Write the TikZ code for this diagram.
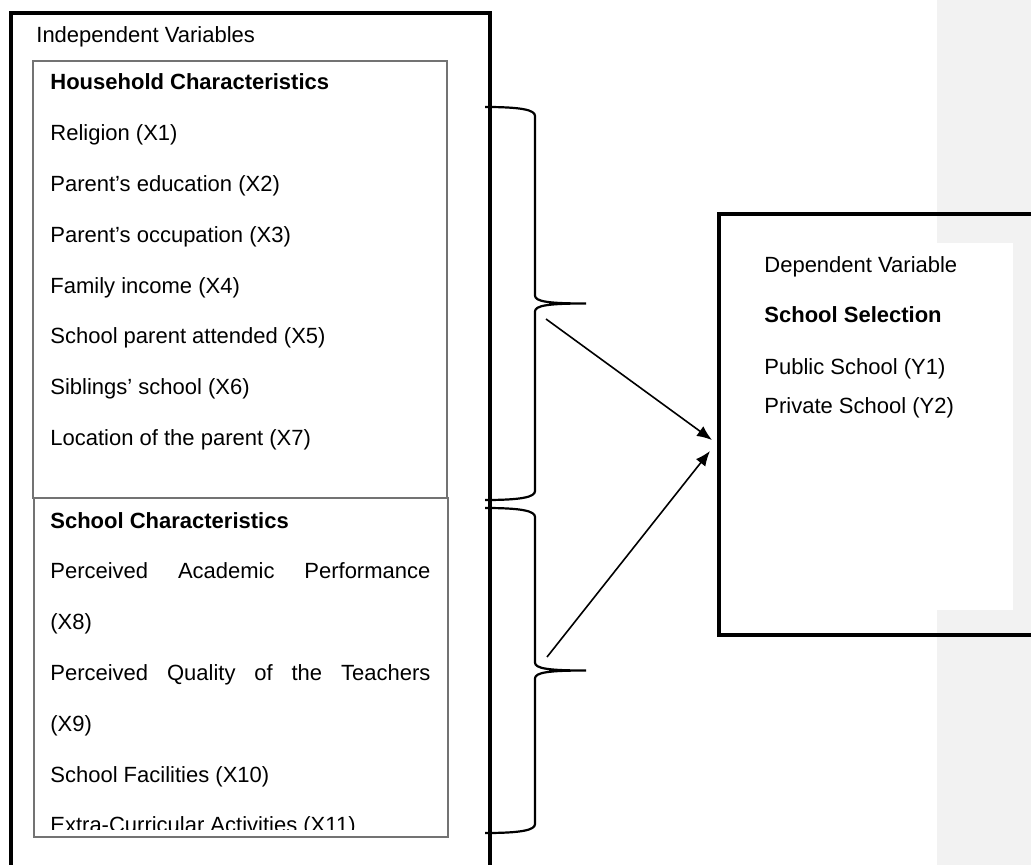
\documentclass[tikz,border=0pt]{standalone}
\usepackage{fontspec}
\setmainfont{Liberation Sans}
\usetikzlibrary{arrows.meta,positioning}
\definecolor{margingray}{HTML}{F2F2F2}
\tikzstyle{outer} = [draw,line width=2pt]
\tikzstyle{inner} = [draw=black!55,line width=0.6pt,fill=white]
\tikzstyle{depbox} = [draw,line width=2.2pt,rectangle,inner sep=0,anchor=north west]
\tikzstyle{lbl} = [anchor=base west,inner sep=0pt,font=\fontsize{11}{13}\selectfont]
\tikzstyle{head} = [lbl,font=\fontsize{11}{13}\selectfont\bfseries]
\tikzstyle{brace} = [line width=1.1pt]
\tikzstyle{link} = [-{Latex[length=7.5pt,width=6pt]},line width=0.8pt]
\def \ls {50.8}
\newcommand{\wordbrace}[2]{%
  \draw[brace] (485,#1) .. controls (522,#1) and (535,{#1+3}) .. (535,{#1+9})
    -- (535,{(#1+#2)/2-8}) .. controls (535,{(#1+#2)/2-2}) and (548,{(#1+#2)/2}) .. (586,{(#1+#2)/2})
    .. controls (548,{(#1+#2)/2}) and (535,{(#1+#2)/2+2}) .. (535,{(#1+#2)/2+8})
    -- (535,{#2-9}) .. controls (535,{#2-3}) and (522,#2) .. (485,#2);}

\begin{document}
\begin{tikzpicture}[x=0.5pt,y=-0.5pt]
  \useasboundingbox (0,0) rectangle (1031,865);
  \clip (0,0) rectangle (1031,865);
  \fill[margingray] (937,0) rectangle (1031,865);
  \fill[white] (937,243) rectangle (1013,610);

  \draw[outer] (11,13) rectangle (490,900);
  \node[lbl] (indep) at (36,43) {Independent Variables};

  \draw[inner] (33,61) rectangle (447,498);
  \node[head] (household) at (50,90) {Household Characteristics};
  \foreach \txt [count=\i] in {Religion (X1),Parent’s education (X2),Parent’s occupation (X3),
      Family income (X4),School parent attended (X5),Siblings’ school (X6),Location of the parent (X7)}
    \node[lbl] (hx\i) at (50,{90+\ls*\i}) {\txt};

  \draw[inner] (34,498) rectangle (448,837);
  \node[head] (school) at (50,528) {School Characteristics};
  \node[lbl] (sx1) at (50,{528+\ls}) {\makebox[190pt][s]{Perceived Academic Performance}};
  \node[lbl] (sx2) at (50,{528+2*\ls}) {(X8)};
  \node[lbl] (sx3) at (50,{528+3*\ls}) {\makebox[190pt][s]{Perceived Quality of the Teachers}};
  \node[lbl] (sx4) at (50,{528+4*\ls}) {(X9)};
  \node[lbl] (sx5) at (50,{528+5*\ls}) {School Facilities (X10)};
  \begin{scope}
    \clip (34,498) rectangle (448,829);
    \node[lbl] (sx6) at (50,{528+6*\ls}) {Extra-Curricular Activities (X11)};
  \end{scope}

  \wordbrace{107}{500}
  \wordbrace{508}{833}

  \node[depbox,minimum width=164pt,minimum height=210.5pt] (dep) at (717,212) {};
  \node[lbl] (deplabel) at (764,273) {Dependent Variable};
  \node[head] (selection) at (764,323) {School Selection};
  \node[lbl] (y1) at (764,374) {Public School (Y1)};
  \node[lbl] (y2) at (764,413) {Private School (Y2)};

  \coordinate (hhtail) at (546,319);
  \coordinate (schtail) at (547,657);
  \coordinate (hhhead) at (712,440);
  \coordinate (schhead) at (710,451);
  \draw[link] (hhtail) -- (hhhead);
  \draw[link] (schtail) -- (schhead);
\end{tikzpicture}
\end{document}
